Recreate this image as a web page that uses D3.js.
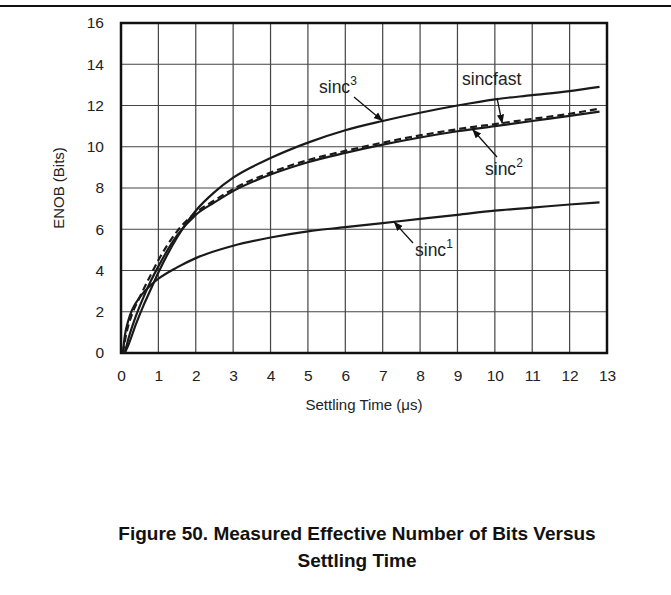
<!DOCTYPE html>
<html>
<head>
<meta charset="utf-8">
<script src="https://cdn.jsdelivr.net/npm/d3@7"></script>
<style>
  body { margin: 0; background: #fff; }
  svg text { font-family: "Liberation Sans", Arial, sans-serif; fill: #222; }
</style>
</head>
<body>
<svg width="671" height="595"></svg>
<script>
// settling time (us) / ENOB (bits)
const sinc1 = [[0.05,0],[0.1,0.8],[0.2,1.6],[0.3,2.1],[0.5,2.7],[0.8,3.3],[1,3.6],[1.5,4.15],[2,4.6],[3,5.2],[4,5.6],[5,5.9],[6,6.1],[7,6.3],[8,6.5],[9,6.7],[10,6.9],[11,7.05],[12,7.2],[12.8,7.3]];
const sinc2 = [[0.1,0],[0.2,0.7],[0.4,1.8],[0.6,2.7],[0.8,3.5],[1,4.2],[1.5,5.7],[2,6.7],[2.5,7.3],[3,7.85],[4,8.65],[5,9.25],[6,9.7],[7,10.1],[8,10.45],[9,10.75],[10,11.0],[11,11.25],[12,11.5],[12.8,11.7]];
const sinc3 = [[0.1,0],[0.2,0.4],[0.4,1.4],[0.6,2.3],[0.8,3.1],[1,3.9],[1.5,5.6],[2,6.9],[2.5,7.8],[3,8.5],[4,9.45],[5,10.2],[6,10.8],[7,11.25],[8,11.65],[9,12.0],[10,12.3],[11,12.5],[12,12.7],[12.8,12.9]];
const sincfast = [[0.05,0],[0.15,1.0],[0.3,1.9],[0.5,2.7],[0.8,3.8],[1,4.5],[1.5,5.9],[2,6.8],[2.5,7.4],[3,7.95],[4,8.75],[5,9.35],[6,9.8],[7,10.2],[8,10.55],[9,10.85],[10,11.1],[11,11.35],[12,11.6],[12.8,11.85]];
const xTicks = d3.range(0, 14);
const yTicks = d3.range(0, 17, 2);

const svg = d3.select("svg");
const pLeft = 121, pRight = 607, pTop = 23, pBottom = 353;

const x = d3.scaleLinear().domain([0, 13]).range([pLeft, pRight]);
const y = d3.scaleLinear().domain([0, 16]).range([pBottom, pTop]);

// rule across the top of the page
svg.append("line")
    .attr("x1", 0).attr("x2", 671).attr("y1", 6).attr("y2", 6)
    .attr("stroke", "#111").attr("stroke-width", 2);

// grid
svg.append("g").selectAll("line")
    .data(xTicks.slice(1, -1))
    .enter().append("line")
    .attr("x1", d => x(d)).attr("x2", d => x(d))
    .attr("y1", pTop).attr("y2", pBottom)
    .attr("stroke", "#444").attr("stroke-width", 1.2);

svg.append("g").selectAll("line")
    .data(yTicks.slice(1, -1))
    .enter().append("line")
    .attr("x1", pLeft).attr("x2", pRight)
    .attr("y1", d => y(d)).attr("y2", d => y(d))
    .attr("stroke", "#444").attr("stroke-width", 1.2);

// axes, labels only
const xAxis = svg.append("g")
    .attr("transform", `translate(0,${pBottom})`)
    .call(d3.axisBottom(x).tickValues(xTicks).tickSize(0).tickPadding(17));
const yAxis = svg.append("g")
    .attr("transform", `translate(${pLeft},0)`)
    .call(d3.axisLeft(y).tickValues(yTicks).tickSize(0).tickPadding(17));
[xAxis, yAxis].forEach(a => {
    a.select(".domain").remove();
    a.selectAll("text").attr("font-size", 15.5)
        .style("font-family", "'Liberation Sans', Arial, sans-serif").attr("fill", "#222");
});

// frame
svg.append("rect")
    .attr("x", pLeft).attr("y", pTop)
    .attr("width", pRight - pLeft).attr("height", pBottom - pTop)
    .attr("fill", "none").attr("stroke", "#111").attr("stroke-width", 2.5);

const line = d3.line().x(d => x(d[0])).y(d => y(d[1])).curve(d3.curveMonotoneX);

[sinc1, sinc2, sinc3].forEach(s => {
    svg.append("path").datum(s)
        .attr("d", line)
        .attr("fill", "none").attr("stroke", "#1a1a1a").attr("stroke-width", 2.2);
});
svg.append("path").datum(sincfast)
    .attr("d", line)
    .attr("fill", "none").attr("stroke", "#1a1a1a").attr("stroke-width", 2.2)
    .attr("stroke-dasharray", "7,4");

// arrowhead
svg.append("defs").append("marker")
    .attr("id", "arr").attr("viewBox", "0 0 10 10")
    .attr("refX", 10).attr("refY", 5)
    .attr("markerWidth", 9).attr("markerHeight", 9)
    .attr("markerUnits", "userSpaceOnUse")
    .attr("orient", "auto")
    .append("path").attr("d", "M0,1 L10,5 L0,9 Z").attr("fill", "#111");

// curve labels: [text, sup, text x, baseline y, arrow from (px), arrow to (data)]
const labels = [
    ["sinc", "3", 319, 93, [354, 97], [7.0, 11.25]],
    ["sincfast", "", 462, 85, [497, 98], [10.2, 11.12]],
    ["sinc", "2", 485, 175, [497, 157], [9.4, 10.85]],
    ["sinc", "1", 415, 256, [413, 243], [7.3, 6.36]]
];
labels.forEach(l => {
    const t = svg.append("text").attr("x", l[2]).attr("y", l[3]).attr("font-size", 17.5);
    t.append("tspan").text(l[0]);
    if (l[1]) t.append("tspan").attr("dy", -8).attr("font-size", 12).text(l[1]);
    svg.append("line")
        .attr("x1", l[4][0]).attr("y1", l[4][1])
        .attr("x2", x(l[5][0])).attr("y2", y(l[5][1]))
        .attr("stroke", "#111").attr("stroke-width", 1.3)
        .attr("marker-end", "url(#arr)");
});

svg.append("text")
    .attr("transform", `translate(64,${(pTop + pBottom) / 2}) rotate(-90)`)
    .attr("text-anchor", "middle").attr("font-size", 15)
    .text("ENOB (Bits)");

svg.append("text")
    .attr("x", (pLeft + pRight) / 2).attr("y", 410)
    .attr("text-anchor", "middle").attr("font-size", 15)
    .text("Settling Time (\u03bcs)");

svg.append("text")
    .attr("x", 357).attr("y", 540)
    .attr("text-anchor", "middle").attr("font-size", 19).attr("font-weight", "bold")
    .style("fill", "#111")
    .text("Figure 50. Measured Effective Number of Bits Versus");
svg.append("text")
    .attr("x", 357).attr("y", 567)
    .attr("text-anchor", "middle").attr("font-size", 19).attr("font-weight", "bold")
    .style("fill", "#111")
    .text("Settling Time");
</script>
</body>
</html>
